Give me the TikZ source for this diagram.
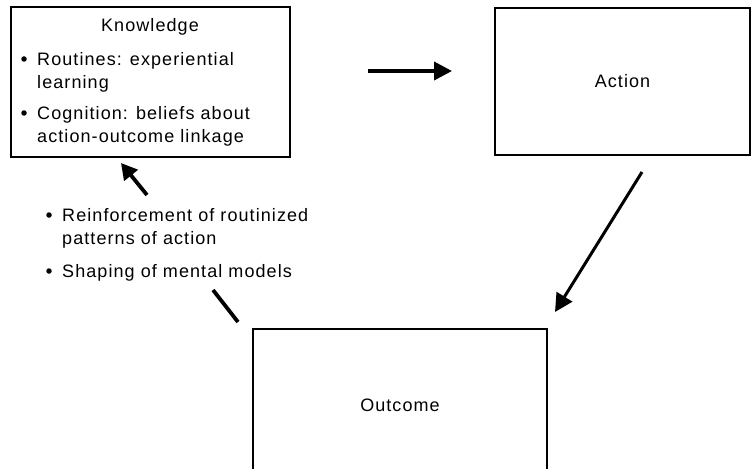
\documentclass[tikz,border=0pt]{standalone}
\usepackage{fontspec}
\newfontfamily\lblfont{Liberation Sans}[LetterSpace=6]
\newcommand{\lbl}{\lblfont\fontsize{18}{23.5}\selectfont}
\usetikzlibrary{arrows.meta}
\begin{document}
\begin{tikzpicture}[x=1pt,y=-1pt,
  box/.style={draw, line width=1.2pt, inner sep=0pt, font=\lbl},
  txt/.style={font=\lbl, inner sep=0pt, align=left},
  bul/.style={circle, fill, inner sep=0pt, minimum size=5.5pt},
  bigarrow/.style={line width=3.8pt, -{Triangle[length=18pt,width=18pt]}},
  plainline/.style={line width=3.8pt}]
\path[use as bounding box, clip] (0,0) rectangle (751,468);
% boxes
\node[box, minimum width=279pt, minimum height=150pt] (know) at (150.5,82) {};
\node[box, minimum width=255pt, minimum height=147pt] (act) at (622.5,81.5) {Action};
\node[box, minimum width=294pt, minimum height=170pt] (out) at (400,414) {\raisebox{17pt}{Outcome}};
% knowledge text
\node[txt, anchor=base] (ktitle) at (150,32) {Knowledge};
\node[bul] (kb1) at (24,59) {};
\node[txt, anchor=base west] (k1) at (37,88.5) {Routines: experiential\\learning};
\node[bul] (kb2) at (24,113) {};
\node[txt, anchor=base west] (k2) at (37,142.5) {Cognition: beliefs about\\action-outcome linkage};
% feedback text
\node[bul] (fb1) at (49,215) {};
\node[txt, anchor=base west] (f1t) at (62,244.5) {Reinforcement of routinized\\patterns of action};
\node[bul] (fb2) at (49,271) {};
\node[txt, anchor=base west] (f2t) at (62,277) {Shaping of mental models};
% arrows
\coordinate (h1) at (368,71);
\coordinate (h2) at (452,71);
\draw[bigarrow] (h1) -- (h2);
\coordinate (d1) at (642,172);
\coordinate (d2) at (555,312);
\draw[bigarrow, line width=3pt] (d1) -- (d2);
\coordinate (g1) at (238,322);
\coordinate (g2) at (213,290);
\coordinate (g3) at (147,195);
\coordinate (g4) at (121,163);
\draw[plainline] (g1) -- (g2);
\draw[bigarrow, -{Triangle[length=16pt,width=17pt]}] (g3) -- (g4);
\end{tikzpicture}
\end{document}
